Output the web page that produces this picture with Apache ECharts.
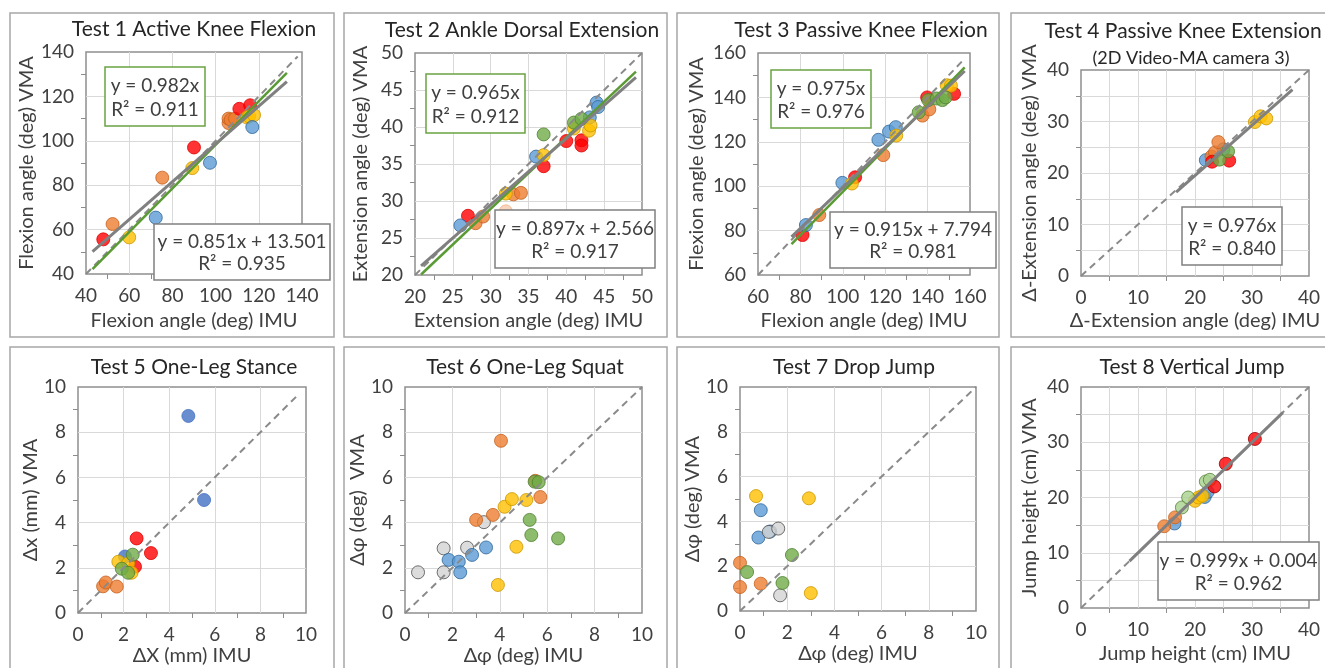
<!DOCTYPE html>
<html>
<head>
<meta charset="utf-8">
<script src="https://cdn.jsdelivr.net/npm/echarts@6/dist/echarts.min.js"></script>
<style>
  html, body { margin: 0; padding: 0; background: #fff; }
  #chart { width: 1325px; height: 668px; }
</style>
</head>
<body>
<div id="chart"></div>
<script>
// ---------- data ----------
// Test 1 Active Knee Flexion
const t1Blue   = [[72.3, 65.4], [97.4, 90.1], [117, 106.2]];
const t1Orange = [[52.3, 62.5], [75.3, 83.4], [106, 108], [106, 110], [107, 109.5], [109, 110]];
const t1Red    = [[48, 55.6], [90, 97], [111, 114.4], [116, 116]];
const t1Yellow = [[60, 56.5], [89.2, 87.7], [114.5, 110.5], [115.5, 111], [117.8, 111.6]];
const t1Lin  = [0.851, 13.501, 0.935];   // slope, intercept, R2
const t1Orig = [0.982, 0.911];           // slope through origin, R2
const t1FitX = [43, 133];
const t1Diag = [40, 138];

// Test 2 Ankle Dorsal Extension
const t2Blue   = [[26, 26.7], [36, 36], [43.1, 41.3], [44, 43.3], [44.2, 42.7]];
const t2Orange = [[28, 27], [29, 27.9], [33, 30.9], [34, 31.1]];
const t2Pale   = [[32, 28.6]];
const t2Red    = [[27, 28], [37, 34.7], [40, 38.1], [42, 38.2], [42, 37.5]];
const t2Yellow = [[32, 31], [37, 36.2], [41, 39.8], [43, 39.5], [43.2, 40.2]];
const t2Green  = [[37, 39], [41, 40.6], [42, 41.1]];
const t2Lin  = [0.897, 2.566, 0.917];
const t2Orig = [0.965, 0.912];
const t2FitX = [20.8, 49.2];
const t2Diag = [20, 50];

// Test 3 Passive Knee Flexion
const t3Blue   = [[82.6, 82.5], [99.8, 101.5], [116.8, 120.9], [121.8, 124.6], [125, 126.6]];
const t3Orange = [[88.9, 87], [119.1, 114], [137.6, 131.8], [140.8, 134.6]];
const t3Red    = [[81, 78], [105.8, 104], [139.8, 140], [152.5, 141.6]];
const t3Yellow = [[104.3, 101.2], [125.2, 122.8], [149, 145.5], [151, 145.3]];
const t3Green  = [[135.8, 133.3], [140.3, 138.8], [144.3, 139.5], [147, 138.8], [148.5, 140]];
const t3Lin  = [0.915, 7.794, 0.981];
const t3Orig = [0.975, 0.976];
const t3FitX = [75.8, 157.5];
const t3Diag = [60, 157];

// Test 4 Passive Knee Extension
const t4Blue   = [[21.9, 22.5], [25, 24.6]];
const t4Orange = [[22.9, 23.2], [23.5, 24], [24.1, 26]];
const t4Red    = [[23, 22.2], [26, 22.4]];
const t4Yellow = [[30.5, 29.9], [31.5, 31], [32.5, 30.6]];
const t4Green  = [[24.3, 22.6], [25.8, 24.2]];
const t4Orig = [0.976, 0.840];
const t4FitX = [16.7, 37.1];
const t4Diag = [0, 40];

// Test 5 One-Leg Stance
const t5Blue   = [[4.84, 8.72], [5.53, 5.0], [2.06, 2.5]];
const t5Orange = [[1.1, 1.18], [1.22, 1.35], [1.7, 1.17]];
const t5Red    = [[2.57, 3.3], [3.2, 2.65], [2.5, 2.05]];
const t5Yellow = [[1.77, 2.27], [2.2, 2.2], [2.35, 1.78]];
const t5Green  = [[2.4, 2.58], [1.92, 1.96], [2.2, 1.78]];
const t5Diag = [0, 9.7];

// Test 6 One-Leg Squat
const t6Blue   = [[1.84, 2.35], [2.27, 2.27], [2.33, 1.8], [2.83, 2.57], [3.42, 2.9]];
const t6Orange = [[3.0, 4.12], [3.71, 4.34], [4.05, 7.62], [5.5, 5.85], [5.71, 5.13]];
const t6Yellow = [[3.92, 1.24], [4.2, 4.7], [4.51, 5.04], [4.7, 2.93], [5.12, 5.0]];
const t6Green  = [[5.26, 4.12], [5.33, 3.45], [5.47, 5.81], [5.64, 5.79], [6.46, 3.3]];
const t6Gray   = [[0.55, 1.8], [1.63, 2.86], [1.63, 1.8], [2.62, 2.89], [3.33, 4.02]];
const t6Diag = [0, 10];

// Test 7 Drop Jump
const t7Blue   = [[0.88, 4.5], [0.78, 3.28], [1.28, 3.55]];
const t7Orange = [[0, 2.15], [0, 1.07], [0.88, 1.22]];
const t7Yellow = [[0.68, 5.13], [2.92, 5.03], [3.0, 0.8]];
const t7Green  = [[0.3, 1.74], [2.2, 2.5], [1.8, 1.25]];
const t7Gray   = [[1.22, 3.53], [1.62, 3.68], [1.7, 0.7]];
const t7Diag = [0, 10];

// Test 8 Vertical Jump
const t8Blue   = [[16.4, 15.3], [21.7, 20.1], [22.2, 21]];
const t8Orange = [[14.6, 14.8], [16.5, 16.4]];
const t8Red    = [[23.4, 22], [25.4, 26.1], [30.5, 30.6]];
const t8Yellow = [[20, 19.4], [20.6, 20], [21.3, 20.3]];
const t8Green  = [[17.7, 18.2], [18.8, 20], [21.9, 22.9], [22.6, 23.2]];
const t8Lin  = [0.999, 0.004, 0.962];
const t8FitX = [8.5, 35.4];
const t8Diag = [0, 40];

// ---------- styles ----------
const FONT = 'Lato';
const TXT = '#404040';
const MARK = {
  blue:   { color: '#5B9BD5', borderColor: '#2E6699' },
  blue5:  { color: '#4472C4', borderColor: '#4472C4' },
  orange: { color: '#ED7D31', borderColor: '#C4621F' },
  pale:   { color: '#F8CBAD', borderColor: '#F4B183' },
  red:    { color: '#FF0000', borderColor: '#E00000' },
  red8:   { color: '#FF0000', borderColor: '#8B0000' },
  yellow: { color: '#FFC000', borderColor: '#C99700' },
  green:  { color: '#70AD47', borderColor: '#4E7F2F' },
  lgreen: { color: '#A9D18E', borderColor: '#548235' },
  gray:   { color: '#D3D3D3', borderColor: '#4D4D4D' }
};

const panels = [
  { grid: [86, 52, 216, 222], x: [40, 140, 20], y: [40, 140, 20],
    xName: 'Flexion angle (deg) IMU', yName: 'Flexion angle (deg) VMA', xGap: 37, yGap: 47,
    pts: [['orange', t1Orange], ['red', t1Red], ['yellow', t1Yellow], ['blue', t1Blue]],
    diag: t1Diag, lin: t1Lin, orig: t1Orig, fitX: t1FitX,
    origBox: [105, 67, 100, 59], linBox: [154, 224, 176, 56] },
  { grid: [415, 53, 227, 222], x: [20, 50, 5], y: [20, 50, 5],
    xName: 'Extension angle (deg) IMU', yName: 'Extension angle (deg) VMA', xGap: 36, yGap: 44,
    pts: [['orange', t2Orange], ['pale', t2Pale], ['red', t2Red], ['blue', t2Blue], ['yellow', t2Yellow], ['green', t2Green]],
    diag: t2Diag, lin: t2Lin, orig: t2Orig, fitX: t2FitX,
    origBox: [426, 74, 99, 59], linBox: [495, 210, 160, 58] },
  { grid: [758, 53, 212, 222], x: [60, 160, 20], y: [60, 160, 20],
    xName: 'Flexion angle (deg) IMU', yName: 'Flexion angle (deg) VMA', xGap: 36, yGap: 51,
    pts: [['red', t3Red], ['blue', t3Blue], ['orange', t3Orange], ['yellow', t3Yellow], ['green', t3Green]],
    diag: t3Diag, lin: t3Lin, orig: t3Orig, fitX: t3FitX,
    origBox: [771, 70, 100, 58], linBox: [830, 212, 166, 56] },
  { grid: [1081, 70, 228, 206], x: [0, 40, 10], y: [0, 40, 10], minor: true,
    xName: 'Δ-Extension angle (deg) IMU', yName: 'Δ-Extension angle (deg) VMA', xGap: 35, yGap: 41,
    pts: [['blue', t4Blue], ['orange', t4Orange], ['red', t4Red], ['green', t4Green], ['yellow', t4Yellow]],
    diag: t4Diag, grayOrig: t4Orig, fitX: t4FitX,
    grayOrigBox: [1182, 207, 100, 58] },
  { grid: [78, 387, 228, 226], x: [0, 10, 2], y: [0, 10, 2],
    xName: 'ΔX (mm) IMU', yName: 'Δx (mm) VMA', xGap: 33, yGap: 37,
    pts: [['blue5', t5Blue], ['red', t5Red], ['orange', t5Orange], ['yellow', t5Yellow], ['green', t5Green]],
    diag: t5Diag },
  { grid: [405, 387, 237, 226], x: [0, 10, 2], y: [0, 10, 2],
    xName: 'Δφ (deg) IMU', yName: 'Δφ (deg)  VMA', xGap: 33, yGap: 30,
    pts: [['gray', t6Gray], ['blue', t6Blue], ['orange', t6Orange], ['yellow', t6Yellow], ['green', t6Green]],
    diag: t6Diag },
  { grid: [740, 387, 236, 224], x: [0, 10, 2], y: [0, 10, 2],
    xName: 'Δφ (deg) IMU', yName: 'Δφ (deg) VMA', xGap: 33, yGap: 33,
    pts: [['orange', t7Orange], ['blue', t7Blue], ['gray', t7Gray], ['yellow', t7Yellow], ['green', t7Green]],
    diag: t7Diag },
  { grid: [1081, 387, 228, 221], x: [0, 40, 10], y: [0, 40, 10], minor: true,
    xName: 'Jump height (cm) IMU', yName: 'Jump height (cm) VMA', xGap: 36, yGap: 41,
    pts: [['blue', t8Blue], ['orange', t8Orange], ['yellow', t8Yellow], ['lgreen', t8Green], ['red8', t8Red]],
    diag: t8Diag, lin: t8Lin, fitX: t8FitX,
    linBox: [1158, 542, 161, 58] }
];

const titles = [
  ['Test 1 Active Knee Flexion', 194, 29],
  ['Test 2 Ankle Dorsal Extension', 522, 30],
  ['Test 3 Passive Knee Flexion', 861, 30],
  ['Test 4 Passive Knee Extension', 1183, 31],
  ['Test 5 One-Leg Stance', 194, 367],
  ['Test 6 One-Leg Squat', 525, 367],
  ['Test 7 Drop Jump', 854, 367],
  ['Test 8 Vertical Jump', 1192, 367]
];

// ---------- build option ----------
const grids = [], xAxes = [], yAxes = [], series = [], graphics = [];

function axis(i, r, name, gap, minor) {
  return {
    type: 'value', gridIndex: i, min: r[0], max: r[1], interval: r[2],
    name: name, nameLocation: 'middle', nameGap: gap,
    nameTextStyle: { fontFamily: FONT, fontSize: 20, color: TXT },
    axisLine: { show: false },
    axisTick: { show: false },
    minorTick: { show: true, splitNumber: 2, length: 5, lineStyle: { color: '#8c8c8c', width: 1 } },
    axisLabel: { fontFamily: FONT, fontSize: 19, color: TXT, margin: 12 },
    splitLine: { show: true, showMinLine: false, showMaxLine: false, lineStyle: { color: '#d9d9d9', width: 1 } },
    minorSplitLine: { show: !!minor, lineStyle: { color: '#d9d9d9', width: 1 } }
  };
}

function line(i, pts, color, width, type, z) {
  return {
    type: 'line', xAxisIndex: i, yAxisIndex: i, data: pts, showSymbol: false, silent: true,
    lineStyle: { color: color, width: width, type: type }, z: z, animation: false
  };
}

function box(b, lines, stroke) {
  graphics.push({ type: 'rect', z: 100,
    shape: { x: b[0], y: b[1], width: b[2], height: b[3] },
    style: { fill: '#fff', stroke: stroke, lineWidth: 1.5 } });
  lines.forEach(function (t, k) {
    graphics.push({ type: 'text', z: 101,
      x: b[0] + b[2] / 2, y: b[1] + b[3] * (k === 0 ? 0.32 : 0.72),
      style: { text: t, fontFamily: FONT, fontSize: 19, fill: TXT, align: 'center', verticalAlign: 'middle' } });
  });
}

panels.forEach(function (p, i) {
  grids.push({ left: p.grid[0], top: p.grid[1], width: p.grid[2], height: p.grid[3],
    show: true, borderColor: '#8f8f8f', borderWidth: 1.5, backgroundColor: 'transparent' });
  xAxes.push(axis(i, p.x, p.xName, p.xGap, p.minor));
  yAxes.push(axis(i, p.y, p.yName, p.yGap, p.minor));

  p.pts.forEach(function (s) {
    series.push({
      type: 'scatter', xAxisIndex: i, yAxisIndex: i, data: s[1], symbolSize: 13, z: 2,
      itemStyle: { color: MARK[s[0]].color, borderColor: MARK[s[0]].borderColor, borderWidth: 1 },
      animation: false
    });
  });

  series.push(line(i, [[p.diag[0], p.diag[0]], [p.diag[1], p.diag[1]]], '#8a8a8a', 2, [7, 5], 3));
  if (p.orig) {
    series.push(line(i, p.fitX.map(function (x) { return [x, p.orig[0] * x]; }), '#5B9B35', 2.5, 'solid', 4));
    box(p.origBox, ['y = ' + p.orig[0].toFixed(3) + 'x', 'R² = ' + p.orig[1].toFixed(3)], '#6AA343');
  }
  if (p.grayOrig) {
    series.push(line(i, p.fitX.map(function (x) { return [x, p.grayOrig[0] * x]; }), '#808080', 3, 'solid', 4));
    box(p.grayOrigBox, ['y = ' + p.grayOrig[0].toFixed(3) + 'x', 'R² = ' + p.grayOrig[1].toFixed(3)], '#808080');
  }
  if (p.lin) {
    series.push(line(i, p.fitX.map(function (x) { return [x, p.lin[0] * x + p.lin[1]]; }), '#808080', 3, 'solid', 5));
    box(p.linBox, ['y = ' + p.lin[0].toFixed(3) + 'x + ' + p.lin[1].toFixed(3), 'R² = ' + p.lin[2].toFixed(3)], '#808080');
  }
});

// panel frames
[[10, 13, 324, 324], [344, 13, 323, 324], [677, 13, 322, 324], [1011, 13, 330, 324],
 [10, 347, 324, 340], [344, 347, 323, 340], [677, 347, 322, 340], [1011, 347, 330, 340]].forEach(function (r) {
  graphics.push({ type: 'rect', z: -1, silent: true,
    shape: { x: r[0], y: r[1], width: r[2], height: r[3] },
    style: { fill: 'none', stroke: '#a6a6a6', lineWidth: 1.5 } });
});

titles.forEach(function (t) {
  graphics.push({ type: 'text', z: 50, x: t[1], y: t[2],
    style: { text: t[0], fontFamily: FONT, fontSize: 21, fill: '#262626', align: 'center', verticalAlign: 'middle' } });
});
graphics.push({ type: 'text', z: 50, x: 1191, y: 58,
  style: { text: '(2D Video-MA camera 3)', fontFamily: FONT, fontSize: 18, fill: '#262626', align: 'center', verticalAlign: 'middle' } });

const chart = echarts.init(document.getElementById('chart'), null, { renderer: 'canvas' });
chart.setOption({
  animation: false,
  backgroundColor: '#fff',
  grid: grids,
  xAxis: xAxes,
  yAxis: yAxes,
  series: series,
  graphic: graphics
});
</script>
</body>
</html>
